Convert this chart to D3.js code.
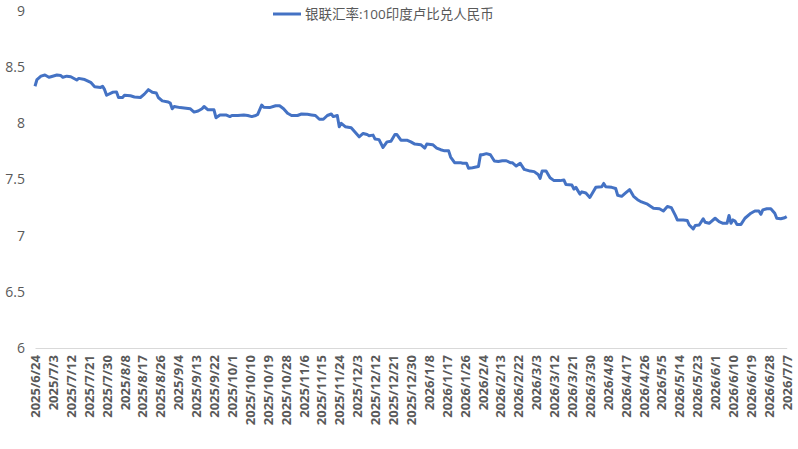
<!DOCTYPE html>
<html>
<head>
<meta charset="utf-8">
<script src="https://cdn.jsdelivr.net/npm/d3@7"></script>
<style>
  body { margin: 0; background: #fff; }
  svg { display: block; font-family: "Open Sans", "Noto Sans CJK SC", sans-serif; }
</style>
</head>
<body>
<div id="chart"></div>
<script>
var seriesName = '银联汇率:100印度卢比兑人民币';

var dates = [
  '2025/6/24','2025/6/25','2025/6/27','2025/6/29','2025/7/1','2025/7/2','2025/7/5','2025/7/7','2025/7/8','2025/7/10',
  '2025/7/12','2025/7/15','2025/7/16','2025/7/19','2025/7/22','2025/7/24','2025/7/27','2025/7/28','2025/7/29','2025/7/30',
  '2025/8/2','2025/8/4','2025/8/5','2025/8/7','2025/8/8','2025/8/11','2025/8/13','2025/8/16','2025/8/18','2025/8/20',
  '2025/8/22','2025/8/24','2025/8/25','2025/8/27','2025/8/30','2025/8/31','2025/9/1','2025/9/2','2025/9/5','2025/9/8',
  '2025/9/10','2025/9/12','2025/9/14','2025/9/16','2025/9/17','2025/9/19','2025/9/22','2025/9/23','2025/9/25','2025/9/28',
  '2025/9/30','2025/10/1','2025/10/4','2025/10/7','2025/10/9','2025/10/11','2025/10/13','2025/10/14','2025/10/16','2025/10/17',
  '2025/10/20','2025/10/23','2025/10/25','2025/10/27','2025/10/29','2025/10/31','2025/11/3','2025/11/5','2025/11/8','2025/11/10',
  '2025/11/12','2025/11/14','2025/11/16','2025/11/18','2025/11/20','2025/11/21','2025/11/23','2025/11/24','2025/11/25','2025/11/27',
  '2025/11/30','2025/12/4','2025/12/6','2025/12/8','2025/12/9','2025/12/11','2025/12/12','2025/12/14','2025/12/16','2025/12/18',
  '2025/12/20','2025/12/22','2025/12/23','2025/12/25','2025/12/28','2025/12/30','2026/1/1','2026/1/4','2026/1/6','2026/1/7',
  '2026/1/10','2026/1/12','2026/1/14','2026/1/16','2026/1/18','2026/1/19','2026/1/21','2026/1/24','2026/1/25','2026/1/27',
  '2026/1/28','2026/1/30','2026/2/2','2026/2/3','2026/2/4','2026/2/6','2026/2/8','2026/2/10','2026/2/12','2026/2/14',
  '2026/2/16','2026/2/18','2026/2/19','2026/2/21','2026/2/23','2026/2/25','2026/2/28','2026/3/2','2026/3/4','2026/3/5',
  '2026/3/6','2026/3/8','2026/3/10','2026/3/12','2026/3/15','2026/3/17','2026/3/18','2026/3/21','2026/3/22','2026/3/23',
  '2026/3/25','2026/3/26','2026/3/28','2026/3/29','2026/3/30','2026/4/1','2026/4/2','2026/4/5','2026/4/6','2026/4/7',
  '2026/4/10','2026/4/12','2026/4/13','2026/4/15','2026/4/17','2026/4/19','2026/4/21','2026/4/23','2026/4/25','2026/4/28',
  '2026/5/1','2026/5/4','2026/5/6','2026/5/8','2026/5/10','2026/5/12','2026/5/13','2026/5/16','2026/5/18','2026/5/19',
  '2026/5/21','2026/5/22','2026/5/24','2026/5/26','2026/5/27','2026/5/29','2026/6/1','2026/6/3','2026/6/5','2026/6/7',
  '2026/6/8','2026/6/9','2026/6/10','2026/6/11','2026/6/12','2026/6/14','2026/6/16','2026/6/19','2026/6/21','2026/6/23',
  '2026/6/24','2026/6/25','2026/6/27','2026/6/29','2026/7/1','2026/7/2','2026/7/4','2026/7/6','2026/7/7'
];

var values = [
  8.33,8.39,8.42,8.43,8.41,8.415,8.43,8.425,8.41,8.42,
  8.415,8.386,8.40,8.39,8.365,8.326,8.32,8.33,8.30,8.25,
  8.276,8.28,8.23,8.23,8.25,8.245,8.235,8.23,8.26,8.30,
  8.276,8.27,8.23,8.20,8.19,8.18,8.13,8.15,8.14,8.135,
  8.13,8.10,8.11,8.13,8.15,8.12,8.12,8.05,8.075,8.075,
  8.06,8.07,8.07,8.075,8.07,8.06,8.07,8.08,8.163,8.143,
  8.14,8.157,8.157,8.13,8.09,8.07,8.07,8.083,8.08,8.075,
  8.07,8.036,8.036,8.07,8.083,8.06,8.07,7.97,8.00,7.97,
  7.96,7.88,7.91,7.90,7.89,7.895,7.86,7.855,7.785,7.835,
  7.84,7.90,7.90,7.85,7.85,7.835,7.815,7.81,7.78,7.815,
  7.81,7.78,7.765,7.755,7.755,7.70,7.65,7.65,7.645,7.645,
  7.60,7.605,7.615,7.72,7.72,7.73,7.72,7.665,7.66,7.667,
  7.667,7.65,7.65,7.62,7.645,7.59,7.575,7.57,7.545,7.51,
  7.575,7.575,7.515,7.49,7.49,7.495,7.455,7.45,7.415,7.43,
  7.37,7.39,7.38,7.36,7.34,7.40,7.43,7.435,7.465,7.435,
  7.43,7.42,7.36,7.35,7.38,7.41,7.35,7.32,7.30,7.28,
  7.245,7.24,7.22,7.26,7.25,7.18,7.14,7.14,7.135,7.095,
  7.06,7.09,7.095,7.15,7.12,7.11,7.155,7.125,7.11,7.11,
  7.18,7.11,7.14,7.13,7.10,7.10,7.155,7.20,7.22,7.22,
  7.19,7.23,7.24,7.24,7.20,7.155,7.15,7.16,7.17
];

var tickLabels = [
  '2025/6/24','2025/7/3','2025/7/12','2025/7/21','2025/7/30','2025/8/8','2025/8/17','2025/8/26',
  '2025/9/4','2025/9/13','2025/9/22','2025/10/1','2025/10/10','2025/10/19','2025/10/28','2025/11/6',
  '2025/11/15','2025/11/24','2025/12/3','2025/12/12','2025/12/21','2025/12/30','2026/1/8','2026/1/17',
  '2026/1/26','2026/2/4','2026/2/13','2026/2/22','2026/3/3','2026/3/12','2026/3/21','2026/3/30',
  '2026/4/8','2026/4/17','2026/4/26','2026/5/5','2026/5/14','2026/5/23','2026/6/1','2026/6/10',
  '2026/6/19','2026/6/28','2026/7/7'
];

var yTicks = [6, 6.5, 7, 7.5, 8, 8.5, 9];

var w = 798, h = 449;
var plotLeft = 35, plotRight = 786.7, plotTop = 11, plotBottom = 348;
var fontStack = '"Open Sans", "Noto Sans CJK SC", sans-serif';
var parse = d3.timeParse('%Y/%-m/%-d');
var fmt = d3.timeFormat('%Y/%-m/%-d');

var data = dates.map(function(d, i) { return { date: parse(d), value: values[i] }; });
var ticks = tickLabels.map(parse);

var x = d3.scaleTime()
  .domain([ticks[0], ticks[ticks.length - 1]])
  .range([plotLeft, plotRight]);

var y = d3.scaleLinear()
  .domain([6, 9])
  .range([plotBottom, plotTop]);

var svg = d3.select('#chart').append('svg')
  .attr('width', w)
  .attr('height', h);

// y axis: labels only
var yAxis = svg.append('g')
  .attr('transform', 'translate(' + plotLeft + ',0)')
  .call(d3.axisLeft(y).tickValues(yTicks).tickSize(0).tickPadding(10).tickFormat(d3.format('')));
yAxis.select('.domain').remove();
yAxis.selectAll('text')
  .attr('fill', '#595959')
  .style('font-family', fontStack)
  .style('font-size', '14px');

// x axis
var xAxis = svg.append('g')
  .attr('transform', 'translate(0,' + plotBottom + ')')
  .call(d3.axisBottom(x).tickValues(ticks).tickSize(0).tickFormat(fmt));
xAxis.select('.domain').attr('stroke', '#d9d9d9').attr('stroke-width', 1);
xAxis.selectAll('text')
  .attr('transform', 'rotate(-90)')
  .attr('x', -7)
  .attr('y', 0)
  .attr('dy', '0.35em')
  .style('text-anchor', 'end')
  .attr('fill', '#595959')
  .style('font-family', fontStack)
  .style('font-size', '13px')
  .style('font-weight', 'bold');

// the series
var line = d3.line()
  .x(function(d) { return x(d.date); })
  .y(function(d) { return y(d.value); });

svg.append('path')
  .datum(data)
  .attr('fill', 'none')
  .attr('stroke', '#4472C4')
  .attr('stroke-width', 3)
  .attr('stroke-linejoin', 'round')
  .attr('d', line);

// legend
var legend = svg.append('g').attr('transform', 'translate(273,14)');
legend.append('line')
  .attr('x1', 0).attr('x2', 28)
  .attr('stroke', '#4472C4')
  .attr('stroke-width', 3);
legend.append('text')
  .attr('x', 32)
  .attr('dy', '0.35em')
  .attr('fill', '#595959')
  .style('font-size', '13.5px')
  .text(seriesName);
</script>
</body>
</html>
